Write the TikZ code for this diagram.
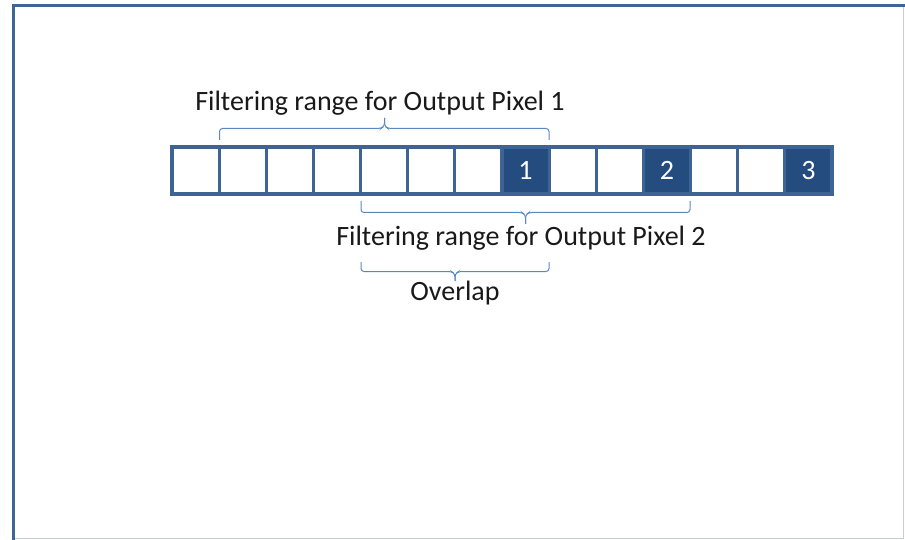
\documentclass[tikz,border=0pt]{standalone}
\usepackage{fontspec}
\setmainfont{Carlito}
\definecolor{cellfill}{HTML}{244C7E}
\definecolor{celledge}{HTML}{3E6496}
\definecolor{bracecol}{HTML}{5B87C0}
\definecolor{framedark}{HTML}{3F6594}
\definecolor{framelight}{HTML}{C4CCD8}
\begin{document}
\begin{tikzpicture}[x=1pt,y=-1pt,
  cell/.style={draw=celledge,line width=3.2pt,fill=white,minimum width=47.14pt,minimum height=47pt,inner sep=0pt,outer sep=0pt},
  outcell/.style={cell,fill=cellfill,text=white,font=\fontsize{28}{32}\selectfont},
  bracket/.style={draw=bracecol,line width=1pt,rounded corners=3pt},
  label/.style={font=\fontsize{28}{32}\selectfont,text=black!90,inner sep=0pt}]
\useasboundingbox (0,0) rectangle (905,540);
% window frame
\draw[framelight,line width=1.5pt] (903.5,6) -- (903.5,538.5) -- (14,538.5);
\draw[framedark,line width=3.5pt] (13.5,540) -- (13.5,5.5) -- (905,5.5);
% row of input pixels
\foreach \i in {0,...,13} {
  \node[cell] (c\i) at ({172+47.14*(\i+0.5)},170.5) {};
}
\node[outcell] at (c7) {1};
\node[outcell] at (c10) {2};
\node[outcell] at (c13) {3};
% range of output pixel 1
\coordinate (a1) at (219.5,140);
\coordinate (a2) at (549,140);
\draw[bracket] (a1) -- (219.5,128.5) -- (381,128.5) -- (384.5,126) -- (384.5,118);
\draw[bracket] (384.5,118) -- (384.5,126) -- (388,128.5) -- (549,128.5) -- (a2);
\node[label] (t1) at (380,103) {Filtering range for Output Pixel 1};
% range of output pixel 2
\coordinate (b1) at (361,201);
\coordinate (b2) at (690,201);
\draw[bracket] (b1) -- (361,212.5) -- (522,212.5) -- (525.5,215) -- (525.5,224);
\draw[bracket] (525.5,224) -- (525.5,215) -- (529,212.5) -- (690,212.5) -- (b2);
\node[label] (t2) at (521,238) {Filtering range for Output Pixel 2};
% overlap of the two ranges
\coordinate (o1) at (361,262);
\coordinate (o2) at (549,262);
\draw[bracket] (o1) -- (361,271.5) -- (451.5,271.5) -- (455,274) -- (455,281);
\draw[bracket] (455,281) -- (455,274) -- (458.5,271.5) -- (549,271.5) -- (o2);
\node[label] (t3) at (455,293) {Overlap};
\end{tikzpicture}
\end{document}
